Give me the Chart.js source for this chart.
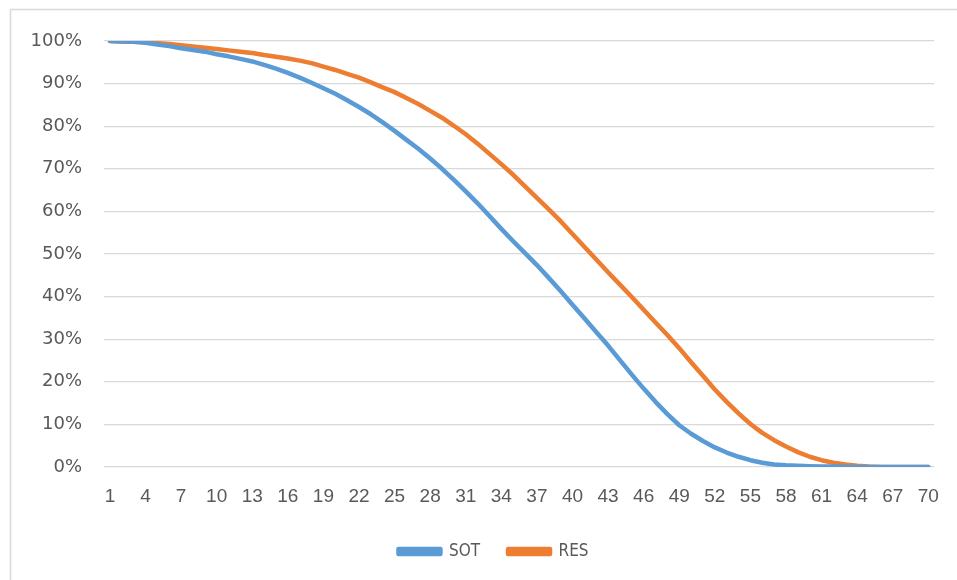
<!DOCTYPE html>
<html>
<head>
<meta charset="utf-8">
<script src="https://cdn.jsdelivr.net/npm/chart.js@4"></script>
<style>
  html, body { margin: 0; padding: 0; background: #ffffff; }
  #wrap { width: 957px; height: 580px; position: relative; }
</style>
</head>
<body>
<div id="wrap"><canvas id="c" width="957" height="580"></canvas></div>
<script>
const categories = ["1","2","3","4","5","6","7","8","9","10","11","12","13","14","15","16","17","18","19","20",
  "21","22","23","24","25","26","27","28","29","30","31","32","33","34","35","36","37","38","39","40",
  "41","42","43","44","45","46","47","48","49","50","51","52","53","54","55","56","57","58","59","60",
  "61","62","63","64","65","66","67","68","69","70"];

const sotValues = [
  1.000, 0.999, 0.998, 0.996, 0.992, 0.988, 0.983, 0.979, 0.975, 0.969,
  0.964, 0.958, 0.952, 0.944, 0.935, 0.925, 0.914, 0.902, 0.889, 0.876,
  0.861, 0.845, 0.828, 0.809, 0.789, 0.768, 0.747, 0.724, 0.700, 0.674,
  0.647, 0.619, 0.589, 0.559, 0.530, 0.502, 0.474, 0.444, 0.413, 0.381,
  0.349, 0.317, 0.285, 0.251, 0.217, 0.184, 0.153, 0.124, 0.098, 0.078,
  0.061, 0.046, 0.034, 0.024, 0.016, 0.010, 0.006, 0.004, 0.003, 0.002,
  0.001, 0.001, 0.0005, 0, 0, 0, 0, 0, 0, 0
];

const resValues = [
  1.000, 0.999, 0.998, 0.997, 0.995, 0.993, 0.990, 0.987, 0.984, 0.981,
  0.978, 0.975, 0.972, 0.967, 0.963, 0.959, 0.954, 0.948, 0.940, 0.932,
  0.923, 0.914, 0.903, 0.891, 0.880, 0.866, 0.852, 0.836, 0.820, 0.801,
  0.781, 0.759, 0.735, 0.711, 0.686, 0.659, 0.632, 0.605, 0.577, 0.547,
  0.517, 0.487, 0.457, 0.428, 0.399, 0.369, 0.339, 0.310, 0.279, 0.246,
  0.214, 0.182, 0.153, 0.126, 0.101, 0.080, 0.063, 0.048, 0.035, 0.024,
  0.016, 0.010, 0.006, 0.003, 0.001, 0, 0, 0, 0, 0
];

const yTickValues = [0, 0.1, 0.2, 0.3, 0.4, 0.5, 0.6, 0.7, 0.8, 0.9, 1.0];
const seriesNames = ["SOT", "RES"];
const seriesColors = ["#5B9BD5", "#ED7D31"];

const frame = {
  id: 'frame',
  beforeDraw(chart) {
    const ctx = chart.ctx;
    ctx.save();
    ctx.fillStyle = '#ffffff';
    ctx.fillRect(0, 0, chart.width, chart.height);
    ctx.strokeStyle = '#d9d9d9';
    ctx.lineWidth = 1.5;
    ctx.strokeRect(10.5, 9.5, 1200, 1200);
    ctx.restore();
  }
};

const legendShift = {
  id: 'legendShift',
  afterLayout(chart) {
    if (chart.legend) { chart.legend.left += 18; chart.legend.right += 18; }
  }
};

new Chart(document.getElementById('c'), {
  type: 'line',
  data: {
    labels: categories,
    datasets: [
      { label: seriesNames[0], data: sotValues, borderColor: seriesColors[0], backgroundColor: seriesColors[0],
        borderWidth: 4.5, pointRadius: 0, tension: 0, borderJoinStyle: 'round', borderCapStyle: 'round' },
      { label: seriesNames[1], data: resValues, borderColor: seriesColors[1], backgroundColor: seriesColors[1],
        borderWidth: 4.5, pointRadius: 0, tension: 0, borderJoinStyle: 'round', borderCapStyle: 'round' }
    ]
  },
  options: {
    responsive: false,
    animation: false,
    devicePixelRatio: 1,
    layout: { padding: { left: 10, right: 16, top: 41, bottom: 10 } },
    plugins: {
      tooltip: { enabled: false },
      legend: {
        position: 'bottom',
        labels: {
          boxWidth: 42, boxHeight: 5, padding: 28,
          color: '#595959',
          font: { family: 'DejaVu Sans Condensed, Liberation Sans', size: 17 }
        }
      }
    },
    scales: {
      x: {
        offset: true,
        grid: { display: false, drawTicks: false },
        border: { display: false },
        ticks: {
          autoSkip: false, maxRotation: 0, padding: 18,
          color: '#595959',
          font: { family: 'Liberation Sans', size: 19 },
          callback: function(v, i) { return i % 3 === 0 ? categories[i] : ''; }
        },
        afterFit(scale) { scale.height = 48; }
      },
      y: {
        min: 0, max: 1,
        afterBuildTicks(scale) { scale.ticks = yTickValues.map(v => ({ value: v })); },
        grid: { color: '#d9d9d9', lineWidth: 1.3, drawTicks: false },
        border: { display: false },
        ticks: {
          padding: 22,
          color: '#595959',
          font: { family: 'DejaVu Sans', size: 18 },
          callback: v => Math.round(v * 100) + '%'
        },
        afterFit(scale) { scale.width = 94; }
      }
    }
  },
  plugins: [frame, legendShift]
});
</script>
</body>
</html>
